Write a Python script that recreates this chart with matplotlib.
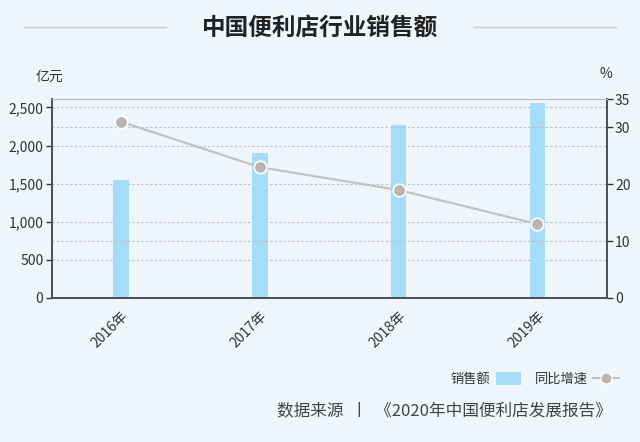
import matplotlib
matplotlib.use("Agg")
import matplotlib.pyplot as plt
from matplotlib.patches import Patch
from matplotlib.lines import Line2D
import numpy as np

plt.rcParams['font.family'] = ['Noto Sans CJK SC', 'DejaVu Sans']

# 数据
years = ['2016年', '2017年', '2018年', '2019年']
sales = [1549, 1905, 2264, 2556]       # 销售额 亿元
growth = [31, 23, 19, 13]              # 同比增速 %

bg = '#eff6fb'
bar_color = '#a6dcf6'
line_color = '#c2c2c2'
dot_color = '#bab4b3'

fig = plt.figure(figsize=(6.4, 4.42), dpi=100, facecolor=bg)
ax = fig.add_axes([0.0808, 0.3258, 0.8672, 0.4502], facecolor=bg)
ax2 = ax.twinx()

x = np.arange(len(years))
ax.bar(x, sales, width=0.113, color=bar_color, zorder=2)
ax.set_xlim(-0.5, 3.5)
ax.set_ylim(0, 2610)
ax.set_yticks([0, 500, 1000, 1500, 2000, 2500])
ax.set_yticklabels(['0', '500', '1,000', '1,500', '2,000', '2,500'])

ax2.plot(x, growth, color=line_color, lw=1.6, zorder=3)
ax2.plot(x, growth, 'o', ms=9, color=dot_color, mec='white', mew=1.2, zorder=4)
ax2.set_ylim(0, 35)
ax2.set_yticks([0, 10, 20, 30, 35])

# 网格线
for v in [500, 1000, 1500, 2000, 2500]:
    ax.axhline(v, color='#b9bec2', lw=0.8, ls=(0, (2, 2)), zorder=1)
for v in [10, 30]:
    ax2.axhline(v, color='#b9bec2', lw=0.8, ls=(0, (2, 2)), zorder=1)

ax.set_xticks(x)
ax.set_xticklabels(years, rotation=45, ha='right', rotation_mode='anchor')
ax.tick_params(axis='x', length=0, pad=8, labelsize=10, colors='#333333')
ax.tick_params(axis='y', length=4, width=1, colors='#333333', labelsize=10, pad=2)
ax2.tick_params(axis='y', length=4, width=1, colors='#333333', labelsize=10, pad=2)

for a in (ax, ax2):
    a.spines['top'].set_color('#b9bec2')
    a.spines['top'].set_linewidth(0.8)
    for s in ['left', 'right', 'bottom']:
        a.spines[s].set_color('#4a4f54')
        a.spines[s].set_linewidth(1.2)

# 标题
fig.text(0.5, 0.938, '中国便利店行业销售额', ha='center', va='center',
         fontsize=17, fontweight='bold', color='#222222')
fig.add_artist(Line2D([0.037, 0.26], [0.938, 0.938], color='#c6cacd', lw=1))
fig.add_artist(Line2D([0.74, 0.963], [0.938, 0.938], color='#c6cacd', lw=1))

fig.text(0.077, 0.826, '亿元', ha='center', va='center', fontsize=10, color='#333333')
fig.text(0.946, 0.832, '%', ha='center', va='center', fontsize=10, color='#333333')

# 图例
handles = [Patch(facecolor=bar_color, edgecolor='none'),
           Line2D([], [], color=line_color, lw=1.5, marker='o', ms=8,
                  mfc=dot_color, mec='white')]
fig.legend(handles, ['销售额', '同比增速'], loc='center right',
           bbox_to_anchor=(0.985, 0.142), ncol=2, frameon=False,
           markerfirst=False, fontsize=9.5, handlelength=1.9, handleheight=1.1,
           handletextpad=0.45, columnspacing=1.0, labelcolor='#333333')

fig.text(0.956, 0.07, '数据来源  丨  《2020年中国便利店发展报告》', ha='right',
         va='center', fontsize=12, fontweight='medium', color='#444444')

fig.savefig('out.png', dpi=100, facecolor=bg)
